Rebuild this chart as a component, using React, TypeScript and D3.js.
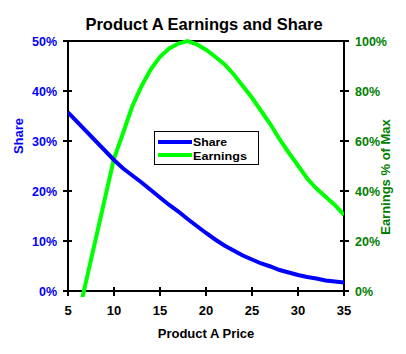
import React from "react"
import * as d3 from "d3"

// data
const prices = [5, 10, 11, 12, 13, 14, 15, 16, 17, 18, 19, 20, 21, 22, 23, 24, 25, 26, 27, 28, 29, 30, 31, 32, 33, 34, 35]
const share = [35.7, 26.2, 24.5, 23.1, 21.7, 20.2, 18.7, 17.2, 15.9, 14.4, 13.0, 11.6, 10.3, 9.1, 8.1, 7.1, 6.3, 5.5, 4.9, 4.2, 3.7, 3.2, 2.8, 2.5, 2.1, 1.9, 1.7]
const earnings = [-28, 53, 63.3, 74, 82, 88.7, 93.7, 97, 99, 100, 98.7, 96.5, 93.7, 90.7, 86.7, 82, 77.3, 72, 66.7, 60.7, 55.3, 50.2, 45, 41, 37.7, 34.4, 30.4]
const priceTicks = [5, 10, 15, 20, 25, 30, 35]
const shareTicks = [0, 10, 20, 30, 40, 50]
const earnTicks = [0, 20, 40, 60, 80, 100]

const W = 406
const H = 354
const font = "'Liberation Sans', Arial, sans-serif"
const BLUE = "#0000ff"
const GREEN = "#00ff00"
const DKGREEN = "#008000"

export default function App() {
    const left = 68, right = 344, top = 41, bottom = 291

    const x = d3.scaleLinear().domain([5, 35]).range([left, right])
    const yL = d3.scaleLinear().domain([0, 50]).range([bottom, top])
    const yR = d3.scaleLinear().domain([0, 100]).range([bottom, top])

    const shareLine = d3.line<number>()
        .x((_, i) => x(prices[i]))
        .y((d) => yL(d))
    const earnLine = d3.line<number>()
        .x((_, i) => x(prices[i]))
        .y((d) => yR(d))

    return (
        <svg width={W} height={H} style={{ position: "absolute", left: 0, top: 0, background: "#fff" }}
            fontFamily={font} fontWeight="bold">
            <defs>
                <clipPath id="plotclip">
                    <rect x={left} y={top - 3} width={right - left} height={bottom - top + 9} />
                </clipPath>
            </defs>

            <text x={204} y={30} textAnchor="middle" fontSize={16.5} fill="#000">Product A Earnings and Share</text>

            {/* frame */}
            <line x1={left} x2={right} y1={top} y2={top} stroke="#000" strokeWidth={2} />
            <line x1={left} x2={left} y1={top} y2={bottom} stroke="#000" strokeWidth={2} />
            <line x1={right} x2={right} y1={top} y2={bottom} stroke="#000" strokeWidth={2} />
            <line x1={left - 1} x2={right + 1} y1={bottom} y2={bottom} stroke="#000" strokeWidth={2} />

            {/* left axis */}
            {shareTicks.map((t) => (
                <g key={"l" + t}>
                    <line x1={left - 5} x2={left + 4} y1={yL(t)} y2={yL(t)} stroke="#000" strokeWidth={2} />
                    <text x={57} y={yL(t) + 4.5} textAnchor="end" fontSize={12.5} fill={BLUE}>{t}%</text>
                </g>
            ))}
            <text transform="translate(23,136) rotate(-90)" textAnchor="middle" fontSize={13} fill={BLUE}>Share</text>

            {/* right axis */}
            {earnTicks.map((t) => (
                <g key={"r" + t}>
                    <line x1={right - 4} x2={right + 5} y1={yR(t)} y2={yR(t)} stroke="#000" strokeWidth={2} />
                    <text x={355} y={yR(t) + 4.5} textAnchor="start" fontSize={12.5} fill={DKGREEN}>{t}%</text>
                </g>
            ))}
            <text transform="translate(390,177) rotate(-90)" textAnchor="middle" fontSize={13} fill={DKGREEN}>Earnings % of Max</text>

            {/* bottom axis */}
            {priceTicks.map((t) => (
                <g key={"b" + t}>
                    <line x1={x(t)} x2={x(t)} y1={bottom - 4} y2={bottom + 5} stroke="#000" strokeWidth={2} />
                    <text x={x(t)} y={315} textAnchor="middle" fontSize={13} fill="#000">{t}</text>
                </g>
            ))}
            <text x={206} y={338} textAnchor="middle" fontSize={13} fill="#000">Product A Price</text>

            {/* series */}
            <g clipPath="url(#plotclip)">
                <path d={earnLine(earnings) ?? ""} fill="none" stroke={GREEN} strokeWidth={4} />
                <path d={shareLine(share) ?? ""} fill="none" stroke={BLUE} strokeWidth={4} />
            </g>

            {/* legend */}
            <rect x={154.5} y={131.5} width={104} height={33} fill="#fff" stroke="#000" strokeWidth={1} />
            <line x1={158} x2={192} y1={142} y2={142} stroke={BLUE} strokeWidth={4} />
            <text x={193} y={146} fontSize={11.5} textLength={34} lengthAdjust="spacingAndGlyphs" fill="#000">Share</text>
            <line x1={158} x2={192} y1={155} y2={155} stroke={GREEN} strokeWidth={4} />
            <text x={193} y={159.5} fontSize={11.5} textLength={54} lengthAdjust="spacingAndGlyphs" fill="#000">Earnings</text>
        </svg>
    )
}
